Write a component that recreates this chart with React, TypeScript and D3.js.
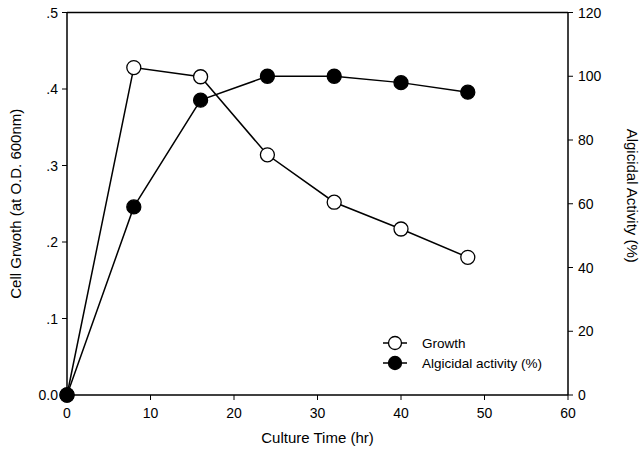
import React from "react";
import * as d3 from "d3";

const hours = [0, 8, 16, 24, 32, 40, 48];
const growth = [0, 0.428, 0.416, 0.314, 0.252, 0.217, 0.18];
const algicidal = [0, 59, 92.5, 100, 100, 98, 95];
const xTicks = [0, 10, 20, 30, 40, 50, 60];
const leftTicks = [0, 0.1, 0.2, 0.3, 0.4, 0.5];
const leftTickLabels = ["0.0", ".1", ".2", ".3", ".4", ".5"];
const rightTicks = [0, 20, 40, 60, 80, 100, 120];

const W = 640, H = 459;
const L = 67, R = 568, T = 12.5, B = 395;
const font = "Liberation Sans, Arial, sans-serif";

export default function App() {
  const x = d3.scaleLinear().domain([0, 60]).range([L, R]);
  const yL = d3.scaleLinear().domain([0, 0.5]).range([B, T]);
  const yR = d3.scaleLinear().domain([0, 120]).range([B, T]);
  const lineG = d3.line<number>().x((_, i) => x(hours[i])).y((d) => yL(d));
  const lineA = d3.line<number>().x((_, i) => x(hours[i])).y((d) => yR(d));
  const r = 7;
  return (
    <svg width={W} height={H} style={{ position: "absolute", left: 0, top: 0, background: "#fff" }}>
      <g stroke="#000" strokeWidth={1.5} fill="none">
        <line x1={L} y1={T} x2={L} y2={B} />
        <line x1={R} y1={T} x2={R} y2={B} />
        <line x1={L} y1={T} x2={R} y2={T} />
        <line x1={L} y1={B} x2={R} y2={B} />
      </g>
      {xTicks.map((t) => (
        <g key={"x" + t}>
          <line x1={x(t)} x2={x(t)} y1={B} y2={B + 5} stroke="#000" strokeWidth={1} />
          <text x={x(t)} y={B + 23} textAnchor="middle" fontFamily={font} fontSize={14}>{t}</text>
        </g>
      ))}
      {leftTicks.map((t, i) => (
        <g key={"l" + t}>
          <line x1={L - 5} x2={L} y1={yL(t)} y2={yL(t)} stroke="#000" strokeWidth={1} />
          <text x={L - 9} y={yL(t) + 5} textAnchor="end" fontFamily={font} fontSize={14}>{leftTickLabels[i]}</text>
        </g>
      ))}
      {rightTicks.map((t) => (
        <g key={"r" + t}>
          <line x1={R} x2={R + 5} y1={yR(t)} y2={yR(t)} stroke="#000" strokeWidth={1} />
          <text x={R + 10} y={yR(t) + 5} textAnchor="start" fontFamily={font} fontSize={14}>{t}</text>
        </g>
      ))}
      <text x={(L + R) / 2} y={443} textAnchor="middle" fontFamily={font} fontSize={15}>Culture Time (hr)</text>
      <text transform={`translate(21,${(T + B) / 2}) rotate(-90)`} textAnchor="middle" fontFamily={font} fontSize={15}>Cell Grwoth (at O.D. 600nm)</text>
      <text transform={`translate(627,${(T + B) / 2 - 8}) rotate(90)`} textAnchor="middle" fontFamily={font} fontSize={15}>Algicidal Activity (%)</text>
      <path d={lineG(growth) || ""} fill="none" stroke="#000" strokeWidth={1.5} />
      <path d={lineA(algicidal) || ""} fill="none" stroke="#000" strokeWidth={1.5} />
      {growth.map((v, i) => (
        <circle key={"g" + i} cx={x(hours[i])} cy={yL(v)} r={r} fill="#fff" stroke="#000" strokeWidth={1.3} />
      ))}
      {algicidal.map((v, i) => (
        <circle key={"a" + i} cx={x(hours[i])} cy={yR(v)} r={r} fill="#000" stroke="#000" strokeWidth={1.3} />
      ))}
      <g>
        <line x1={383} x2={407} y1={343} y2={343} stroke="#000" strokeWidth={1.5} />
        <circle cx={395} cy={343} r={6.5} fill="#fff" stroke="#000" strokeWidth={1.3} />
        <text x={422} y={348} fontFamily={font} fontSize={13.5}>Growth</text>
        <line x1={383} x2={407} y1={363} y2={363} stroke="#000" strokeWidth={1.5} />
        <circle cx={395} cy={363} r={6.5} fill="#000" stroke="#000" strokeWidth={1.3} />
        <text x={422} y={368} fontFamily={font} fontSize={13.5}>Algicidal activity (%)</text>
      </g>
    </svg>
  );
}
